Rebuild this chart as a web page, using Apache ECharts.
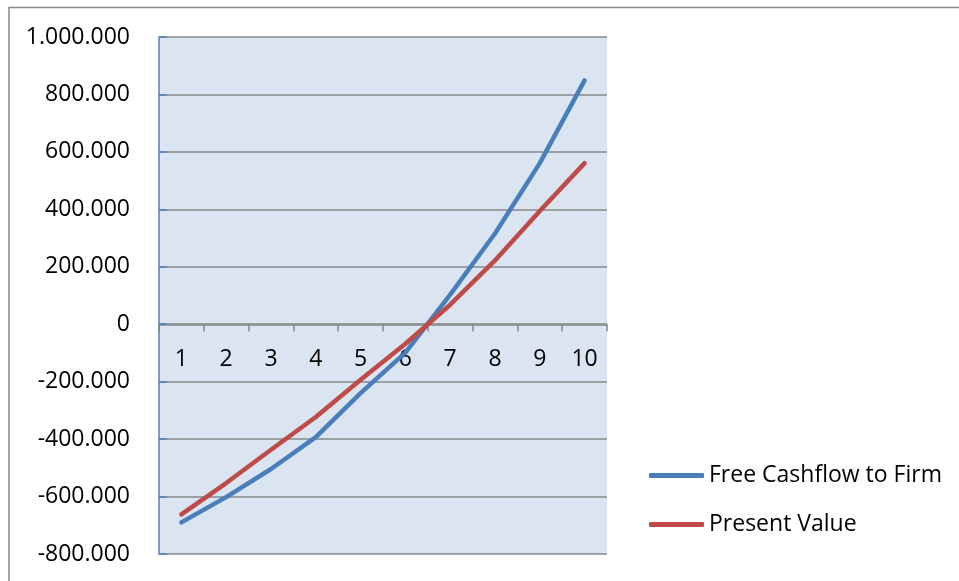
<!DOCTYPE html>
<html>
<head>
<meta charset="utf-8">
<script src="https://cdn.jsdelivr.net/npm/echarts@6/dist/echarts.min.js"></script>
<style>html,body{margin:0;padding:0;background:#fff}#c{width:959px;height:581px}</style>
</head>
<body>
<div id="c"></div>
<script>
var categories = ['1','2','3','4','5','6','7','8','9','10'];
var fcffValues = [-690000,-602000,-504000,-393000,-240000,-99000,103000,316000,561000,849000];
var pvValues = [-662000,-553000,-437000,-323000,-193000,-68000,68000,222000,394000,561000];
var yTicks = [-800000,1000000,200000];

var FONT = '"Open Sans", "Noto Sans", sans-serif';
function fmt(v){
  var s = Math.abs(v).toString().replace(/\B(?=(\d{3})+(?!\d))/g, '.');
  return (v < 0 ? '-' : '') + s;
}
var chart = echarts.init(document.getElementById('c'), null, {renderer:'canvas'});
chart.setOption({
  animation:false,
  backgroundColor:'#fff',
  graphic:[
    {type:'polyline', shape:{points:[[9,590],[9,7.5],[970,7.5]]}, style:{stroke:'#888',lineWidth:1.5,fill:null}}
  ],
  grid:{left:159, top:37, right:352, bottom:27, show:true, backgroundColor:'#dbe5f1', borderWidth:0,
        containLabel:false, outerBoundsMode:'none'},
  legend:{
    orient:'vertical', left:649, top:464, padding:0, itemGap:26,
    itemWidth:55, itemHeight:5, icon:'roundRect',
    textStyle:{fontFamily:FONT, fontSize:23, color:'#000'},
    data:['Free Cashflow to Firm','Present Value']
  },
  xAxis:{
    type:'category', data:categories, boundaryGap:true, position:'bottom',
    offset:-229.5,
    axisLine:{onZero:false, lineStyle:{color:'#888', width:1.5}},
    axisTick:{show:true, inside:false, length:7, lineStyle:{color:'#888', width:1.5}},
    axisLabel:{margin:23, fontFamily:FONT, fontSize:23, color:'#000'},
    splitLine:{show:false}
  },
  yAxis:{
    type:'value', min:yTicks[0], max:yTicks[1], interval:yTicks[2],
    axisLine:{show:true, onZero:false, lineStyle:{color:'#4f81bd', width:1.5}},
    axisTick:{show:true, inside:true, length:8, lineStyle:{color:'#4f81bd', width:1.5}},
    axisLabel:{margin:29, fontFamily:FONT, fontSize:23, color:'#000', formatter:fmt},
    splitLine:{show:true, lineStyle:{color:'#888', width:1.5}}
  },
  series:[
    {name:'Free Cashflow to Firm', type:'line', data:fcffValues, symbol:'none',
     lineStyle:{color:'#4a7ebb', width:4.5, cap:'round', join:'round'}, itemStyle:{color:'#4a7ebb'}},
    {name:'Present Value', type:'line', data:pvValues, symbol:'none',
     lineStyle:{color:'#be4b48', width:4.5, cap:'round', join:'round'}, itemStyle:{color:'#be4b48'}}
  ]
});
</script>
</body>
</html>
